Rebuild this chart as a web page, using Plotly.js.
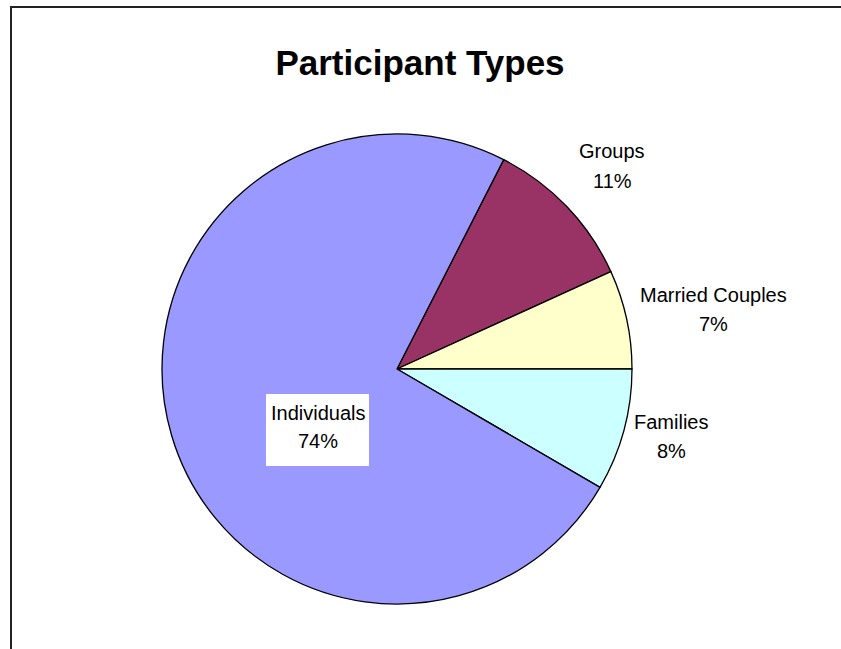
<!DOCTYPE html>
<html>
<head>
<meta charset="utf-8">
<script src="https://cdn.plot.ly/plotly-3.0.1.min.js"></script>
<style>
  html, body { margin: 0; padding: 0; background: #fff; overflow: hidden; }
  #wrap { position: relative; width: 841px; height: 649px; overflow: hidden; }
  #chart { position: absolute; left: 0; top: 0; width: 841px; height: 649px; }
  #frame { position: absolute; left: 10px; top: 6px; width: 900px; height: 700px;
           border-top: 2px solid #222; border-left: 2px solid #222; pointer-events: none; }
</style>
</head>
<body>
<div id="wrap">
  <div id="chart"></div>
  <div id="frame"></div>
</div>
<script>
// ---- data ----
const categories = ['Groups', 'Married Couples', 'Families', 'Individuals'];
const shares = [10.7, 6.8, 8.4, 74.1];
const sliceColors = ['#993366', '#FFFFCC', '#CCFFFF', '#9999FF'];
const chartTitle = 'Participant Types';

// ---- layout helpers (pixel positions of label centres) ----
const W = 841, H = 649;
const px = x => x / W;
const py = y => 1 - y / H;
const labelPos = {
  'Groups':          { x: 612, y1: 151, y2: 181 },
  'Married Couples': { x: 713, y1: 295, y2: 324 },
  'Families':        { x: 671, y1: 422, y2: 451 },
  'Individuals':     { x: 318, y1: 413, y2: 441 }
};

const total = shares.reduce((a, b) => a + b, 0);
const pctText = shares.map(v => Math.round(v / total * 100) + '%');

const labelFont = { family: 'Liberation Sans, Arial, sans-serif', size: 20, color: '#000' };

const annotations = [];
categories.forEach((c, i) => {
  const p = labelPos[c];
  annotations.push({ xref: 'paper', yref: 'paper', x: px(p.x), y: py(p.y1), xanchor: 'center', yanchor: 'middle',
    text: c, showarrow: false, font: labelFont });
  annotations.push({ xref: 'paper', yref: 'paper', x: px(p.x), y: py(p.y2), xanchor: 'center', yanchor: 'middle',
    text: pctText[i], showarrow: false, font: labelFont });
});

const trace = {
  type: 'pie',
  labels: categories,
  values: shares,
  sort: false,
  direction: 'clockwise',
  rotation: 27,
  marker: { colors: sliceColors, line: { color: '#000', width: 1.3 } },
  textinfo: 'none',
  hoverinfo: 'label+percent',
  showlegend: false,
  domain: { x: [px(162), px(632)], y: [py(604), py(134)] }
};

const layout = {
  width: W, height: H,
  margin: { l: 0, r: 0, t: 0, b: 0 },
  paper_bgcolor: '#fff',
  plot_bgcolor: '#fff',
  showlegend: false,
  title: {
    text: '<b>' + chartTitle + '</b>',
    x: px(420), xanchor: 'center',
    y: py(63), yanchor: 'middle',
    xref: 'paper', yref: 'paper',
    font: { family: 'Liberation Sans, Arial, sans-serif', size: 35, color: '#000' }
  },
  shapes: [
    { type: 'rect', xref: 'paper', yref: 'paper', x0: px(266), x1: px(369), y0: py(466), y1: py(394),
      fillcolor: '#fff', line: { width: 0 }, layer: 'above' }
  ],
  annotations: annotations
};

Plotly.newPlot('chart', [trace], layout, { staticPlot: true, displayModeBar: false });
</script>
</body>
</html>
